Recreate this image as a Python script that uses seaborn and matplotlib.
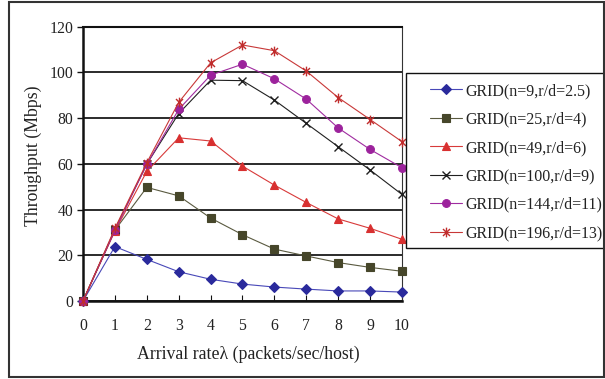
import numpy as np
import pandas as pd
import matplotlib
matplotlib.use("Agg")
import matplotlib.pyplot as plt
from matplotlib.path import Path
from matplotlib.patches import Rectangle
import seaborn as sns

# Arrival rate (packets/sec/host)
rates = [0, 1, 2, 3, 4, 5, 6, 7, 8, 9, 10]

# Throughput (Mbps) for each grid configuration
grid_9 = [0, 23.8, 18.2, 12.8, 9.5, 7.4, 6.1, 5.2, 4.4, 4.4, 3.9]
grid_25 = [0, 31.0, 49.7, 46.0, 36.3, 29.0, 22.7, 19.7, 16.8, 14.7, 13.0]
grid_49 = [0, 30.6, 56.7, 71.4, 70.0, 59.0, 50.7, 43.1, 35.9, 31.8, 27.0]
grid_100 = [0, 31.3, 59.9, 82.0, 96.6, 96.4, 87.9, 77.7, 67.5, 57.3, 46.6]
grid_144 = [0, 31.0, 59.8, 83.8, 98.8, 103.6, 97.2, 88.3, 75.7, 66.3, 58.3]
grid_196 = [0, 31.8, 60.5, 86.9, 104.2, 112.0, 109.5, 100.6, 89.0, 79.4, 69.7]

labels = [
    "GRID(n=9,r/d=2.5)",
    "GRID(n=25,r/d=4)",
    "GRID(n=49,r/d=6)",
    "GRID(n=100,r/d=9)",
    "GRID(n=144,r/d=11)",
    "GRID(n=196,r/d=13)",
]
series = [grid_9, grid_25, grid_49, grid_100, grid_144, grid_196]

# Excel-style asterisk: an X crossed by a vertical bar
star = Path(
    [(0, -1), (0, 1), (-0.72, -0.72), (0.72, 0.72), (-0.72, 0.72), (0.72, -0.72)],
    [Path.MOVETO, Path.LINETO, Path.MOVETO, Path.LINETO, Path.MOVETO, Path.LINETO],
)

styles = [
    dict(color="#4848b8", marker="D", mfc="#2a2a9c", mec="#2a2a9c", ms=5.0),
    dict(color="#5a5a40", marker="s", mfc="#46462a", mec="#46462a", ms=5.6),
    dict(color="#d83a3a", marker="^", mfc="#d83030", mec="#d83030", ms=6.4),
    dict(color="#202020", marker="x", mfc="none", mec="#202020", ms=6.0, mew=1.0),
    dict(color="#a02ca0", marker="o", mfc="#9c229c", mec="#9c229c", ms=5.6),
    dict(color="#c83838", marker=star, mfc="none", mec="#c02c2c", ms=7.0, mew=1.0),
]

df = pd.DataFrame({"rate": rates})
for lab, vals in zip(labels, series):
    df[lab] = vals

sns.set_theme(style="white")
plt.rcParams["font.family"] = ["Liberation Serif", "DejaVu Serif"]
plt.rcParams["text.color"] = "#222222"

fig = plt.figure(figsize=(6.05, 3.79), dpi=100)
W, H = 605, 379

# Plot area
x0, x1, y0, y1 = 83, 402, 26.7, 301
ax = fig.add_axes([x0 / W, 1 - y1 / H, (x1 - x0) / W, (y1 - y0) / H])

for lab, st in zip(labels, styles):
    st = dict(st)
    sns.lineplot(
        data=df, x="rate", y=lab, ax=ax,
        color=st.pop("color"), marker=st.pop("marker"),
        markerfacecolor=st.pop("mfc"), markeredgecolor=st.pop("mec"),
        markersize=st.pop("ms"), markeredgewidth=st.pop("mew", 0.8),
        linewidth=0.8, label=lab, clip_on=False, zorder=3, **st,
    )

ax.set_xlim(0, 10)
ax.set_ylim(0, 120)
ax.set_xticks(rates)
ax.set_yticks(np.arange(0, 121, 20))
ax.set_xlabel("")
ax.set_ylabel("")

ax.yaxis.grid(True, color="#1a1a1a", linewidth=1.3)
ax.xaxis.grid(False)
ax.set_axisbelow(True)

for side in ["left", "bottom"]:
    ax.spines[side].set_color("#111111")
    ax.spines[side].set_linewidth(1.8)
ax.spines["top"].set_color("#111111")
ax.spines["top"].set_linewidth(1.5)
ax.spines["right"].set_color("#333333")
ax.spines["right"].set_linewidth(0.8)

ax.tick_params(axis="y", direction="out", length=4, width=1.0, color="#111111",
               pad=3, labelsize=11.3, labelcolor="#222222", left=True)
ax.tick_params(axis="x", direction="in", length=4, width=0.8, color="#111111",
               pad=12, labelsize=11.3, labelcolor="#222222", bottom=True)

fig.text(33 / W, 1 - 156 / H, "Throughput (Mbps)", rotation=90,
         ha="center", va="center", fontsize=12.8)
fig.text(248 / W, 1 - 354 / H, "Arrival rate\u03bb (packets/sec/host)",
         ha="center", va="center", fontsize=12.8)

handles, labs = ax.get_legend_handles_labels()
if ax.get_legend():
    ax.get_legend().remove()

# Legend entries placed without their own frame; the box is drawn separately
leg = fig.legend(
    handles, labs, loc="upper left",
    bbox_to_anchor=(430 / W, 1 - 83.0 / H), bbox_transform=fig.transFigure,
    frameon=False, fontsize=11.5, handlelength=2.0, handletextpad=0.23,
    labelspacing=0.78, borderpad=0, borderaxespad=0,
)
fig.patches.append(Rectangle((406 / W, 1 - 248 / H), (640 - 406) / W, (248 - 72.7) / H,
                             transform=fig.transFigure, fill=True, facecolor="white",
                             edgecolor="#111111", linewidth=1.0, zorder=0))

# Outer chart border
fig.patches.append(Rectangle((9 / W, 2.5 / H), (603.5 - 9) / W, (377 - 2.5) / H,
                             transform=fig.transFigure, fill=False,
                             edgecolor="#333333", linewidth=1.5))

fig.savefig("out.png", dpi=100)
